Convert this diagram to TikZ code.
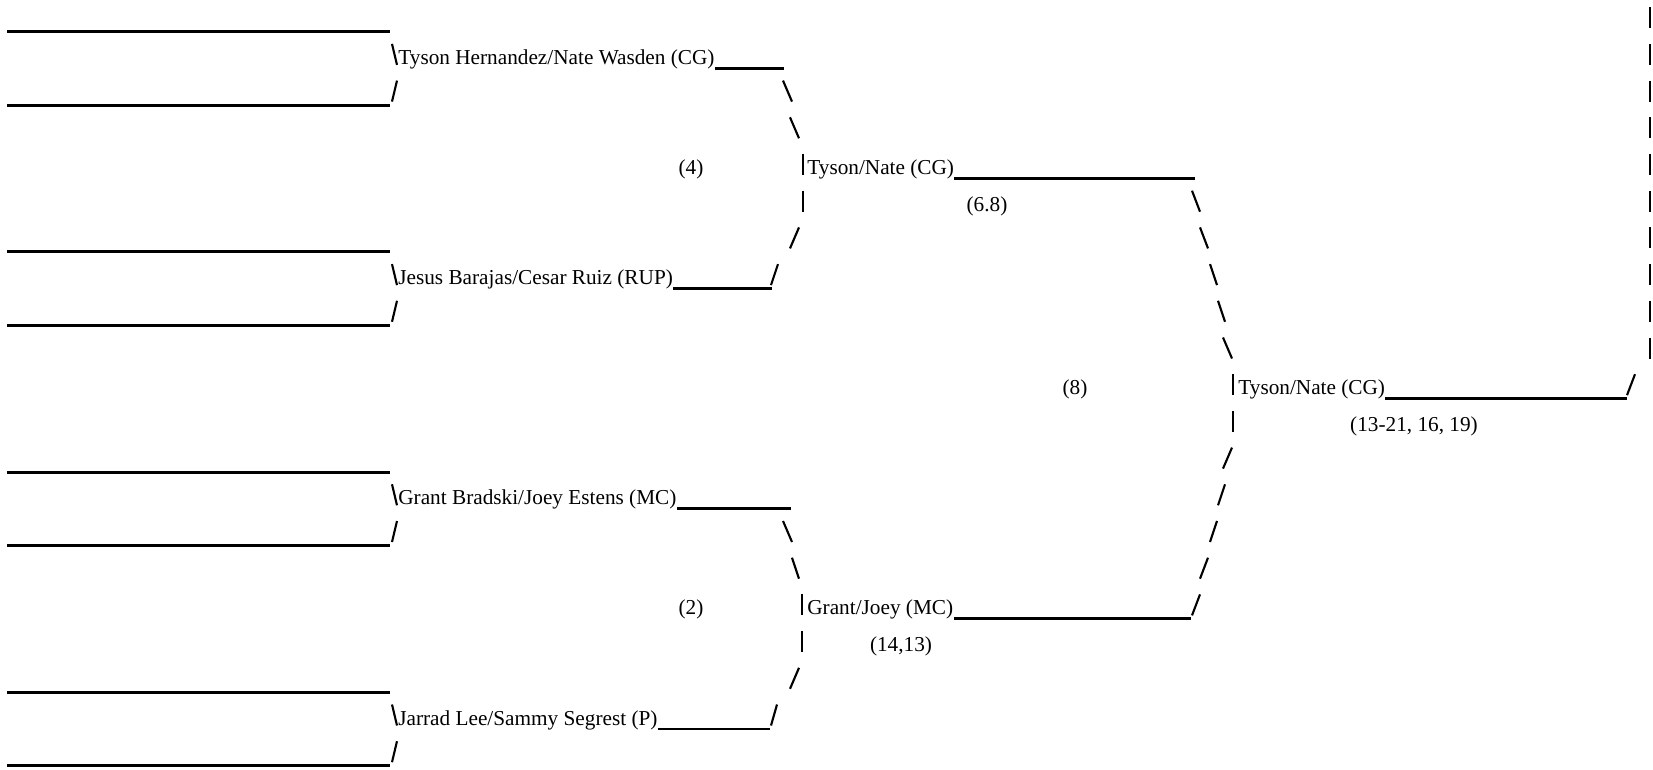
\documentclass[tikz,border=0pt]{standalone}
\usepackage{fontspec}
\setmainfont{Liberation Serif}
\usepackage{tikz}
\usetikzlibrary{positioning}
\def\rowsep{36.7}
\def\rowtop{31.7}

\begin{document}
\begin{tikzpicture}[x=0.02cm,y=-0.02cm,font=\fontsize{12.1}{14}\selectfont]
    \tikzstyle{rule}=[line width=1.6pt]
    \tikzstyle{stroke}=[line width=1.2pt]
    \tikzstyle{team}=[inner sep=0pt,anchor=base west]
    \tikzstyle{score}=[inner sep=0pt,anchor=base]

    \useasboundingbox (0,0) rectangle (1653,770);

    % Draw the empty first round lines
    \foreach \r in {0,2,6,8,12,14,18,20}
        \draw[rule] (7,{\rowtop+\rowsep*\r}) -- (390,{\rowtop+\rowsep*\r});

    % Draw the backslash strokes
    \foreach \r / \a / \b in {1/392/397,7/392/397,13/392/397,19/392/397,2/783/792,3/790/799,14/783/792,15/792/799,5/1192/1200,6/1200/1208,7/1210/1217,8/1218/1225,9/1223/1232}
        \draw[stroke] (\a,{\rowtop+\rowsep*\r-24.5}) -- (\b,{\rowtop+\rowsep*\r-3.5});

    % Draw the slash strokes
    \foreach \r / \a / \b in {2/397/392,8/397/392,14/397/392,20/397/392,6/799/790,7/778/771,18/799/790,19/777/771,12/1232/1223,13/1225/1218,14/1217/1210,15/1208/1200,16/1200/1192,10/1635/1627}
        \draw[stroke] (\a,{\rowtop+\rowsep*\r-24.5}) -- (\b,{\rowtop+\rowsep*\r-3.5});

    % Draw the bar strokes
    \foreach \r / \a in {4/803,5/803,16/802,17/802,10/1233,11/1233}
        \draw[stroke] (\a,{\rowtop+\rowsep*\r-24.5}) -- (\a,{\rowtop+\rowsep*\r-3.5});
    \foreach \r in {0,...,9}
        \draw[stroke] (1650,{\rowtop+\rowsep*\r-24.5}) -- (1650,{\rowtop+\rowsep*\r-3.5});

    % Second round teams
    \node[team] (hw) at (398,{\rowtop+\rowsep*1-4}) {Tyson Hernandez/Nate Wasden (CG)};
    \node[team] (br) at (398,{\rowtop+\rowsep*7-4}) {Jesus Barajas/Cesar Ruiz (RUP)};
    \node[team] (be) at (398,{\rowtop+\rowsep*13-4}) {Grant Bradski/Joey Estens (MC)};
    \node[team] (ls) at (398,{\rowtop+\rowsep*19-4}) {Jarrad Lee/Sammy Segrest (P)};

    \draw[rule] (hw.base east) ++(0,4) -- (784,{\rowtop+\rowsep*1});
    \draw[rule] (br.base east) ++(0,4) -- (772,{\rowtop+\rowsep*7});
    \draw[rule] (be.base east) ++(0,4) -- (791,{\rowtop+\rowsep*13});
    \draw[rule] (ls.base east) ++(0,4) -- (770,{\rowtop+\rowsep*19});

    % Semifinal winners
    \node[team] (cg) at (807,{\rowtop+\rowsep*4-4}) {Tyson/Nate (CG)};
    \node[team] (mc) at (807,{\rowtop+\rowsep*16-4}) {Grant/Joey (MC)};
    \draw[rule] (cg.base east) ++(0,4) -- (1195,{\rowtop+\rowsep*4});
    \draw[rule] (mc.base east) ++(0,4) -- (1191,{\rowtop+\rowsep*16});

    % Champion
    \node[team] (champ) at (1238,{\rowtop+\rowsep*10-4}) {Tyson/Nate (CG)};
    \draw[rule] (champ.base east) ++(0,4) -- (1627,{\rowtop+\rowsep*10});

    % Seeds and scores
    \node[score] (s4) at (691,{\rowtop+\rowsep*4-4}) {(4)};
    \node[score] (s2) at (691,{\rowtop+\rowsep*16-4}) {(2)};
    \node[score] (s8) at (1075,{\rowtop+\rowsep*10-4}) {(8)};
    \node[score] (cgscore) at (987,{\rowtop+\rowsep*5-4}) {(6.8)};
    \node[score] (mcscore) at (901,{\rowtop+\rowsep*17-4}) {(14,13)};
    \node[score] (finalscore) at (1414,{\rowtop+\rowsep*11-4}) {(13-21, 16, 19)};

\end{tikzpicture}
\end{document}
